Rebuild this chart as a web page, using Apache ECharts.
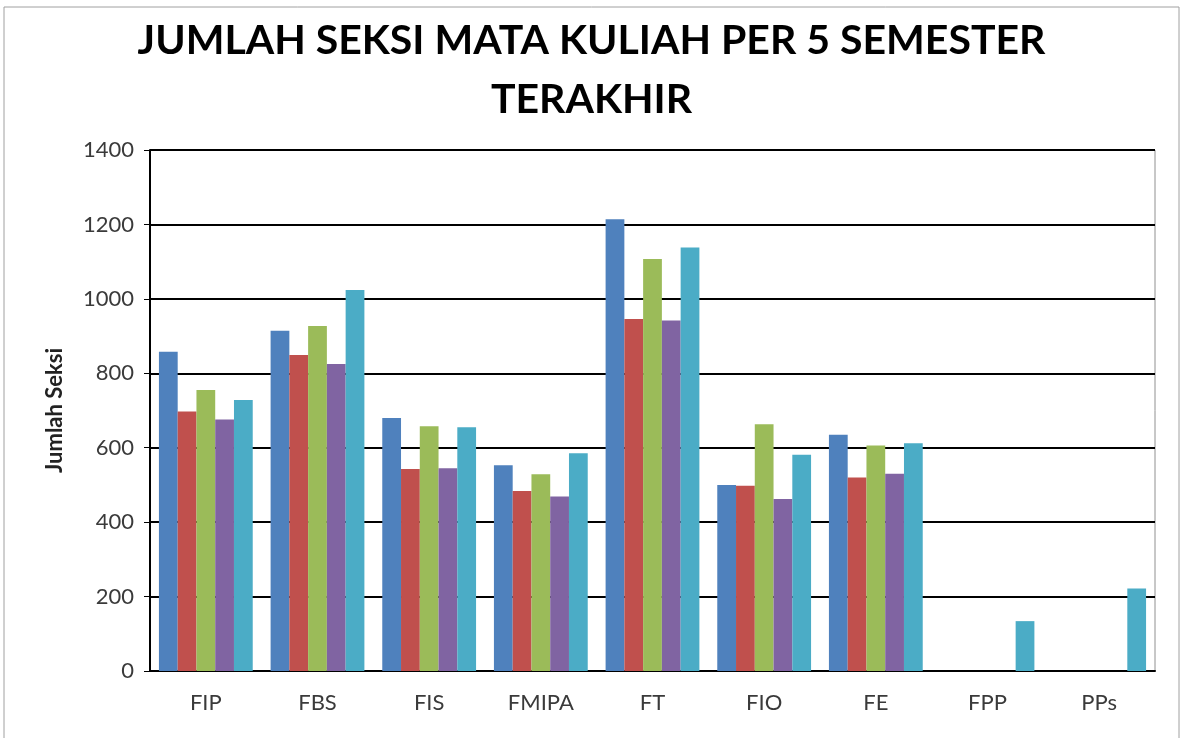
<!DOCTYPE html>
<html>
<head>
<meta charset="utf-8">
<script src="https://cdn.jsdelivr.net/npm/echarts@6/dist/echarts.min.js"></script>
<style>
  html, body { margin: 0; padding: 0; background: #fff; }
  #chart { width: 1183px; height: 738px; }
</style>
</head>
<body>
<div id="chart"></div>
<script>
// fakultas
var categories = ['FIP', 'FBS', 'FIS', 'FMIPA', 'FT', 'FIO', 'FE', 'FPP', 'PPs'];
// 5 semester terakhir, '-' = tidak ada data
var sem1 = [858, 914, 680, 553, 1214, 500, 635, '-', '-'];
var sem2 = [697, 849, 543, 484, 946, 498, 520, '-', '-'];
var sem3 = [755, 927, 658, 529, 1107, 663, 606, '-', '-'];
var sem4 = [676, 825, 545, 469, 942, 462, 530, '-', '-'];
var sem5 = [728, 1024, 655, 585, 1138, 581, 612, 134, 222];
var seriesNames = ['Semester 1', 'Semester 2', 'Semester 3', 'Semester 4', 'Semester 5'];
var colors = ['#4F81BD', '#C0504D', '#9BBB59', '#8064A2', '#4BACC6'];

var myChart = echarts.init(document.getElementById('chart'));

var allData = [sem1, sem2, sem3, sem4, sem5];
var series = [];
for (var i = 0; i < allData.length; i++) {
    series.push({
        name: seriesNames[i],
        type: 'bar',
        data: allData[i],
        barGap: '0%',
        barCategoryGap: '16%',
        itemStyle: { color: colors[i] }
    });
}

var option = {
    animation: false,
    title: {
        text: 'JUMLAH SEKSI MATA KULIAH PER 5 SEMESTER\nTERAKHIR',
        left: 'center',
        top: 6,
        textStyle: {
            fontFamily: 'Lato',
            fontWeight: 'bold',
            fontSize: 41,
            lineHeight: 59,
            color: '#000'
        }
    },
    graphic: [{
        type: 'rect',
        shape: { x: 4, y: 7, width: 1175, height: 745 },
        style: { fill: 'none', stroke: '#a0a0a0', lineWidth: 1 },
        silent: true
    }],
    grid: {
        left: 150,
        right: 28,
        top: 150,
        bottom: 67,
        show: true,
        borderColor: '#909090',
        borderWidth: 1
    },
    xAxis: {
        type: 'category',
        data: categories,
        axisLine: { lineStyle: { color: '#000', width: 2 } },
        axisTick: { show: false },
        axisLabel: {
            fontFamily: 'Lato',
            fontSize: 22,
            color: '#3a3a3a',
            margin: 21
        }
    },
    yAxis: {
        type: 'value',
        min: 0,
        max: 1400,
        interval: 200,
        name: 'Jumlah Seksi',
        nameLocation: 'middle',
        nameGap: 84,
        nameTextStyle: {
            fontFamily: 'Lato',
            fontWeight: 'bold',
            fontSize: 22,
            color: '#222'
        },
        axisLine: { show: true, lineStyle: { color: '#000', width: 2 } },
        axisTick: { show: true, length: 6, inside: false, lineStyle: { color: '#000' } },
        axisLabel: {
            fontFamily: 'Lato',
            fontSize: 22,
            color: '#3a3a3a',
            margin: 16,
            formatter: function (v) { return String(v); }
        },
        splitLine: { lineStyle: { color: '#000', width: 2 } }
    },
    series: series
};

myChart.setOption(option);
</script>
</body>
</html>
